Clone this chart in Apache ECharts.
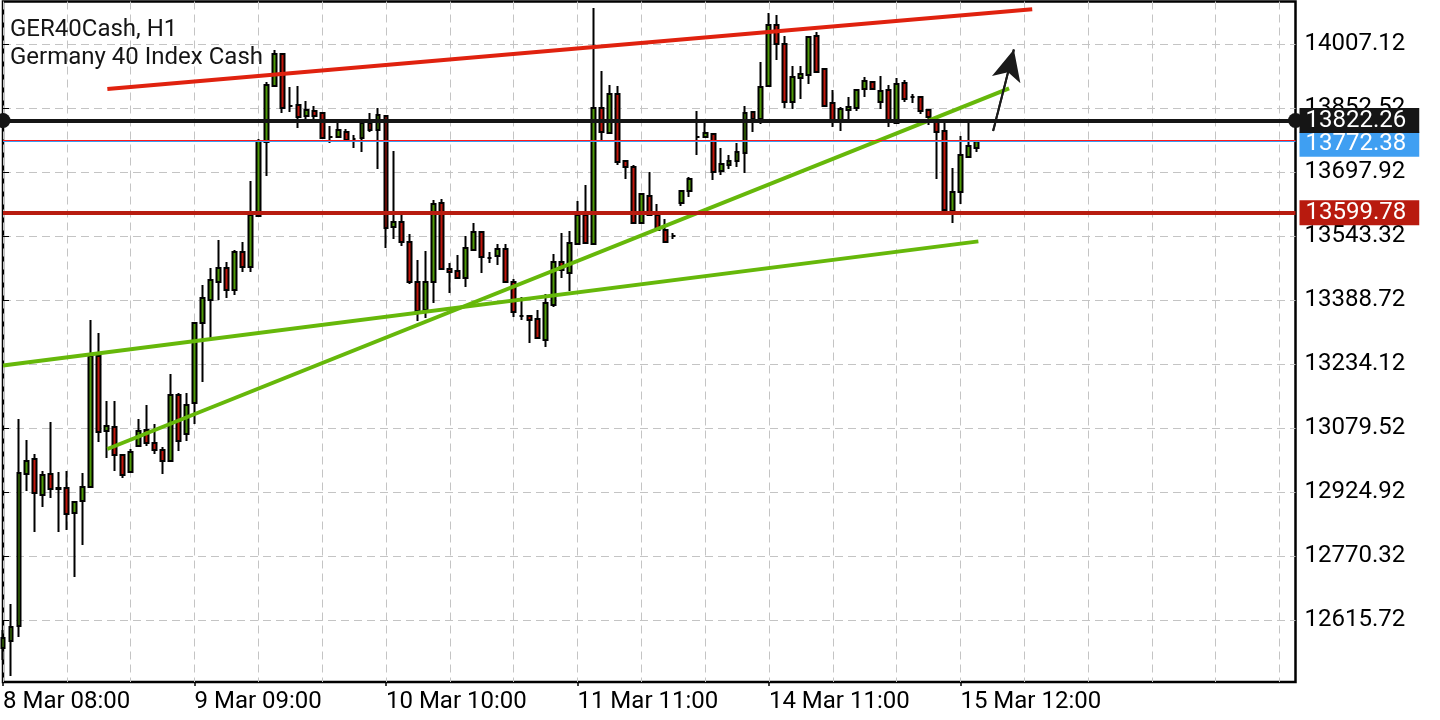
<!DOCTYPE html>
<html><head><meta charset="utf-8">
<script src="https://cdn.jsdelivr.net/npm/echarts@6/dist/echarts.min.js"></script>
<style>html,body{margin:0;padding:0;background:#fff}#c{width:1440px;height:720px}</style>
</head><body><div id="c"></div>
<script>
const dateLabels = ['8 Mar 08:00', '9 Mar 09:00', '10 Mar 10:00', '11 Mar 11:00', '14 Mar 11:00', '15 Mar 12:00'];
const dateLabelBars = [0, 24, 48, 72, 96, 120];
const slotCount = 163;

const opens = [12548.1,12565.0,12601.2,12968.4,13004.6,12917.7,12968.4,12934.6,12934.6,12874.2,
12903.2,12937.0,13253.4,13072.3,13081.9,13014.3,12973.2,13036.0,13074.7,13043.3,
13026.4,12999.8,13159.2,13065.0,13139.9,13333.2,13388.7,13432.2,13466.0,13412.9,
13504.7,13468.4,13591.6,13770.4,13905.7,13983.0,13857.3,13859.8,13833.2,13845.3,
13840.4,13782.5,13782.5,13794.5,13777.6,13780.0,13816.3,13799.4,13833.2,13565.1,
13577.1,13528.8,13432.2,13364.6,13432.2,13623.0,13463.6,13458.8,13441.9,13509.5,
13553.0,13490.2,13495.0,13511.9,13432.2,13350.1,13350.1,13342.8,13292.1,13376.6,
13480.5,13453.9,13524.0,13594.0,13524.0,13852.5,13792.1,13886.3,13724.5,13710.0,
13574.7,13639.9,13594.0,13557.8,13543.3,13623.0,13652.0,13782.5,13782.5,13789.7,
13700.3,13714.8,13724.5,13743.8,13842.9,13825.9,13905.7,14053.0,14007.1,13867.0,
13925.0,13932.2,14026.4,13946.7,13864.6,13823.5,13847.7,13852.5,13898.4,13915.3,
13867.0,13896.0,13816.3,13912.9,13879.1,13879.1,13847.7,13818.7,13797.0,13603.7,
13649.6,13734.2,13755.9];

const closes = [12572.2,12598.8,12970.8,12999.8,12922.5,12966.0,12932.2,12932.2,12871.8,12900.8,
12937.0,13253.4,13069.9,13084.4,13014.3,12966.0,13021.5,13072.3,13043.3,13026.4,
12999.8,13159.2,13048.1,13135.1,13333.2,13393.6,13437.0,13466.0,13412.9,13504.7,
13468.4,13594.0,13772.8,13908.1,13983.0,13852.5,13857.3,13830.8,13847.7,13833.2,
13780.0,13782.5,13799.4,13775.2,13777.6,13816.3,13799.4,13835.6,13562.6,13577.1,
13528.8,13432.2,13362.1,13432.2,13620.6,13463.6,13456.4,13441.9,13514.3,13553.0,
13492.6,13490.2,13511.9,13432.2,13359.7,13350.1,13340.4,13296.9,13381.5,13480.5,
13461.2,13526.4,13594.0,13526.4,13852.5,13794.5,13886.3,13722.1,13710.0,13574.7,
13644.8,13594.0,13557.8,13528.8,13543.3,13652.0,13681.0,13782.5,13792.1,13697.9,
13717.2,13724.5,13746.2,13840.4,13825.9,13903.2,14053.0,14007.1,13867.0,13927.4,
13934.6,14024.0,13939.5,13857.3,13823.5,13850.1,13854.9,13896.0,13917.7,13898.4,
13893.6,13823.5,13910.5,13874.3,13879.1,13845.3,13830.8,13794.5,13606.1,13649.6,
13739.0,13760.7,13772.4];

const lows = [12519.1,12480.4,12574.7,12927.3,12828.3,12888.7,12910.4,12828.3,12833.1,12719.6,
12796.9,12934.6,13045.7,13007.1,12975.7,12958.7,12970.8,13036.0,13036.0,13016.7,
12968.4,12999.8,13024.0,13048.1,13089.2,13190.6,13296.9,13388.7,13393.6,13400.8,
13456.4,13456.4,13591.6,13688.3,13905.7,13840.4,13842.9,13804.2,13823.5,13823.5,
13780.0,13768.0,13782.5,13775.2,13755.9,13746.2,13794.5,13705.2,13514.3,13536.1,
13519.2,13427.4,13338.0,13345.2,13381.5,13461.2,13405.6,13439.4,13420.1,13509.5,
13453.9,13478.1,13473.3,13432.2,13347.7,13340.4,13284.8,13296.9,13275.2,13371.8,
13441.9,13410.5,13524.0,13526.4,13524.0,13775.2,13792.1,13714.8,13681.0,13574.7,
13574.7,13594.0,13557.8,13526.4,13536.1,13615.8,13637.5,13739.0,13782.5,13678.6,
13690.7,13705.2,13710.0,13695.5,13794.5,13813.9,13903.2,13968.5,13852.5,13850.1,
13874.3,13910.5,13937.1,13854.9,13806.6,13797.0,13825.9,13845.3,13879.1,13898.4,
13850.1,13806.6,13816.3,13867.0,13864.6,13838.0,13811.5,13681.0,13606.1,13574.7,
13620.6,13734.2,13746.2];

const highs = [12591.6,12654.4,13101.3,13050.5,13016.7,12975.7,13094.0,12973.2,12975.7,12900.8,
12970.8,13340.4,13309.0,13144.7,13144.7,13016.7,13028.8,13101.3,13135.1,13089.2,
13033.6,13210.0,13164.1,13164.1,13333.2,13425.0,13466.0,13533.7,13480.5,13509.5,
13528.8,13676.2,13777.6,13915.3,13992.6,13983.0,13903.2,13905.7,13869.4,13857.3,
13842.9,13809.0,13816.3,13801.8,13787.3,13816.3,13840.4,13852.5,13833.2,13748.6,
13594.0,13548.2,13485.3,13507.1,13630.3,13632.7,13478.1,13497.4,13543.3,13574.7,
13553.0,13504.7,13524.0,13524.0,13439.4,13396.0,13352.5,13364.6,13403.2,13499.8,
13550.6,13555.4,13627.9,13666.5,14094.1,13941.9,13908.1,13905.7,13724.5,13714.8,
13647.2,13697.9,13620.6,13584.4,13550.6,13652.0,13685.8,13845.3,13816.3,13789.7,
13755.9,13739.0,13768.0,13857.3,13842.9,13963.6,14082.0,14077.2,14026.4,13954.0,
13954.0,14026.4,14036.1,13946.7,13896.0,13854.9,13879.1,13898.4,13927.4,13915.3,
13929.8,13908.1,13925.0,13920.2,13886.3,13879.1,13847.7,13818.7,13818.7,13707.6,
13784.9,13818.7,13775.2];

const yTicks = [12615.72, 12770.32, 12924.92, 13079.52, 13234.12, 13388.72, 13543.32, 13697.92, 13852.52, 14007.12];
const yMin = 12465.95;
const yMax = 14109.78;

const levelBlack = 13822.26;
const levelAsk = 13772.38;
const levelBid = 13774.6;
const levelSupport = 13599.78;

const redChannel = [[13.08, 13898.4], [129.0, 14090.9]];
const greenSlow = [[0, 13230.5], [122.25, 13530.3]];
const greenFast = [[13.08, 13028.8], [126.1, 13900.1]];
const arrowLine = [[124.1, 13797.0], [126.7, 13993.6]];

const FONT = 'Roboto';
const categories = Array.from({length: slotCount}, (_, i) => String(i));
const labelMap = {};
dateLabelBars.forEach((b, k) => { labelMap[b] = dateLabels[k]; });
const candles = opens.map((o, i) => [o, closes[i], lows[i], highs[i]]);
const every24 = (i) => i % 24 === 0 && labelMap[i] !== undefined;
const every8 = (i) => i % 8 === 0;

function priceLabel(bg, text, extra) {
  return Object.assign({
    show: true, position: 'end', distance: 4, formatter: text,
    color: '#fff', backgroundColor: bg, fontFamily: FONT, fontSize: 24,
    lineHeight: 25, padding: [0, 13, 0, 6]
  }, extra || {});
}

const chart = echarts.init(document.getElementById('c'), null, {renderer: 'canvas'});
chart.setOption({
  animation: false,
  backgroundColor: '#ffffff',
  title: {
    text: 'GER40Cash, H1\nGermany 40 Index Cash',
    left: 10, top: 16, padding: 0,
    textStyle: {fontFamily: FONT, fontSize: 24, fontWeight: 'normal', color: '#151515', lineHeight: 28}
  },
  grid: {left: 1.5, top: 1.5, right: 144.5, bottom: 38, show: true, borderColor: '#000', borderWidth: 2.5, backgroundColor: 'transparent'},
  xAxis: [{
    type: 'category', data: categories, boundaryGap: false,
    axisLine: {show: false},
    axisTick: {show: true, interval: every24, length: 4, lineStyle: {color: '#000', width: 1.5}},
    axisLabel: {interval: every24, formatter: (v, i) => labelMap[i] || '', align: 'left', margin: 8,
      fontSize: 24, fontFamily: FONT, color: '#000'},
    splitLine: {show: true, interval: every8, lineStyle: {color: '#c4c4c4', type: [8, 5], width: 1}}
  }, {
    type: 'value', min: 0, max: slotCount - 1, show: false
  }],
  yAxis: {
    type: 'value', position: 'right', min: yMin, max: yMax,
    axisLine: {show: false},
    axisTick: {show: true, length: 6, customValues: yTicks, lineStyle: {color: '#000', width: 1}},
    axisLabel: {customValues: yTicks, margin: 9, formatter: (v) => Number(v).toFixed(2),
      fontSize: 24, fontFamily: FONT, color: '#000'},
    splitLine: {show: true, lineStyle: {color: '#c4c4c4', type: [8, 5], width: 1}}
  },
  series: [{
    type: 'candlestick', name: 'GER40Cash', xAxisIndex: 0, yAxisIndex: 0,
    data: candles, barWidth: 4.4, silent: true,
    itemStyle: {color: '#4f9a08', color0: '#c1160c', borderColor: '#000', borderColor0: '#000', borderWidth: 2},
    markLine: {
      silent: true, symbol: ['circle', 'circle'], symbolSize: 15, z: 10,
      lineStyle: {color: '#151515', width: 4, type: 'solid'},
      label: priceLabel('#151515', levelBlack.toFixed(2)),
      data: [{yAxis: levelBlack}]
    }
  }, {
    type: 'line', name: 'support', xAxisIndex: 1, yAxisIndex: 0, data: redChannel, symbol: 'none', silent: true,
    lineStyle: {color: '#e0220f', width: 4}, z: 4,
    markLine: {
      silent: true, symbol: ['none', 'none'],
      lineStyle: {color: '#b81c10', width: 4, type: 'solid'},
      label: priceLabel('#b81a0e', levelSupport.toFixed(2)),
      data: [{yAxis: levelSupport}]
    }
  }, {
    type: 'line', name: 'bid', xAxisIndex: 1, yAxisIndex: 0, data: greenSlow, symbol: 'none', silent: true,
    lineStyle: {color: '#66b80a', width: 4}, z: 4,
    markLine: {
      silent: true, symbol: ['none', 'none'],
      lineStyle: {color: '#ff1a1a', width: 1.2, type: 'solid'},
      label: {show: false},
      data: [{yAxis: levelBid}]
    }
  }, {
    type: 'line', name: 'ask', xAxisIndex: 1, yAxisIndex: 0, data: greenFast, symbol: 'none', silent: true,
    lineStyle: {color: '#66b80a', width: 4}, z: 4,
    markLine: {
      silent: true, symbol: ['none', 'none'], z: 3,
      lineStyle: {color: '#3d9cf2', width: 1.2, type: 'solid'},
      label: priceLabel('#3f9ff2', levelAsk.toFixed(2), {offset: [0, 3]}),
      data: [{yAxis: levelAsk}]
    }
  }, {
    type: 'line', name: 'arrow', xAxisIndex: 1, yAxisIndex: 0, data: arrowLine, symbol: 'none', silent: true,
    lineStyle: {color: '#1a1a1a', width: 2}, z: 4,
    markLine: {
      silent: true, symbol: ['none', 'arrow'], symbolSize: [22, 31],
      lineStyle: {color: '#1a1a1a', width: 2, type: 'solid'},
      label: {show: false},
      data: [[{coord: arrowLine[0]}, {coord: arrowLine[1]}]]
    }
  }]
});
</script>
</body></html>
